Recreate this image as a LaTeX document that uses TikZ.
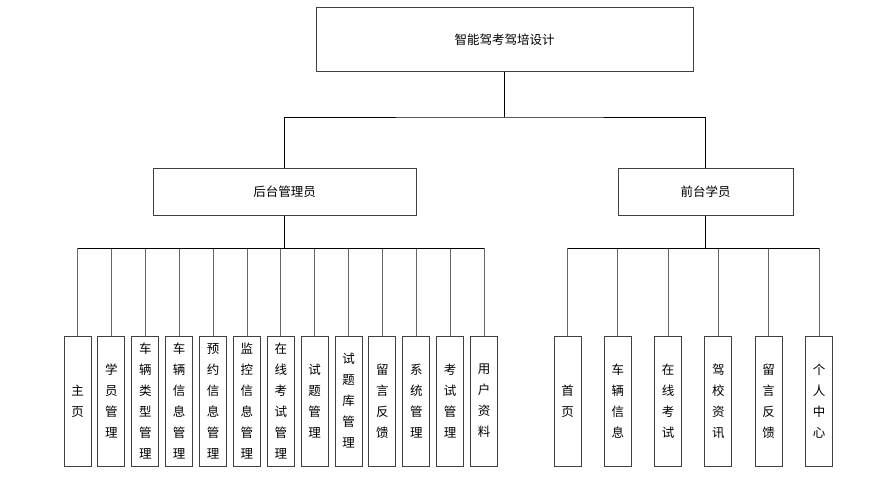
\documentclass[tikz,border=0pt]{standalone}
\usepackage{fontspec}
\setmainfont{Noto Sans CJK SC}
\begin{document}
\begin{tikzpicture}[x=1pt,y=-1pt,
  box/.style={draw=black!75,line width=1pt,fill=white,inner sep=0pt},
  vbox/.style={box,minimum width=27pt,minimum height=130pt,align=center,font=\fontsize{12.5}{21}\selectfont},
  ln/.style={line width=0.8pt}]
\useasboundingbox (0,0) rectangle (885,484);
\node[box,minimum width=377pt,minimum height=64pt,font=\fontsize{12.5}{14}\selectfont] (root) at (504.5,40) {智能驾考驾培设计};
\node[box,minimum width=263pt,minimum height=47pt,font=\fontsize{12.5}{14}\selectfont] (admin) at (284.5,191.5) {后台管理员};
\node[box,minimum width=175pt,minimum height=47pt,font=\fontsize{12.5}{14}\selectfont] (stu) at (705.5,191.5) {前台学员};
\coordinate (b0) at (504.5,117);
\draw[ln] (root.south) -- (b0);
\draw[ln] (admin.north) |- (b0) -| (stu.north);
\foreach \i/\t in {0/主\\页,1/学\\员\\管\\理,2/车\\辆\\类\\型\\管\\理,3/车\\辆\\信\\息\\管\\理,4/预\\约\\信\\息\\管\\理,5/监\\控\\信\\息\\管\\理,6/在\\线\\考\\试\\管\\理,7/试\\题\\管\\理,8/试\\题\\库\\管\\理,9/留\\言\\反\\馈,10/系\\统\\管\\理,11/考\\试\\管\\理,12/用\\户\\资\\料}{
  \node[vbox] (a\i) at (77.5+33.88*\i,401) {\t};
  \coordinate (ab\i) at (77.5+33.88*\i,248);
  \draw[ln,black!60] (a\i.north) -- (ab\i);
}
\draw[ln] (ab0) -- (ab12);
\coordinate (ac) at (284.5,248);
\draw[ln] (admin.south) -- (ac);
\foreach \i/\t in {0/首\\页,1/车\\辆\\信\\息,2/在\\线\\考\\试,3/驾\\校\\资\\讯,4/留\\言\\反\\馈,5/个\\人\\中\\心}{
  \node[vbox] (s\i) at (567.5+50.3*\i,401) {\t};
  \coordinate (sb\i) at (567.5+50.3*\i,248);
  \draw[ln,black!60] (s\i.north) -- (sb\i);
}
\draw[ln] (sb0) -- (sb5);
\coordinate (sc) at (705.5,248);
\draw[ln] (stu.south) -- (sc);
\end{tikzpicture}
\end{document}
